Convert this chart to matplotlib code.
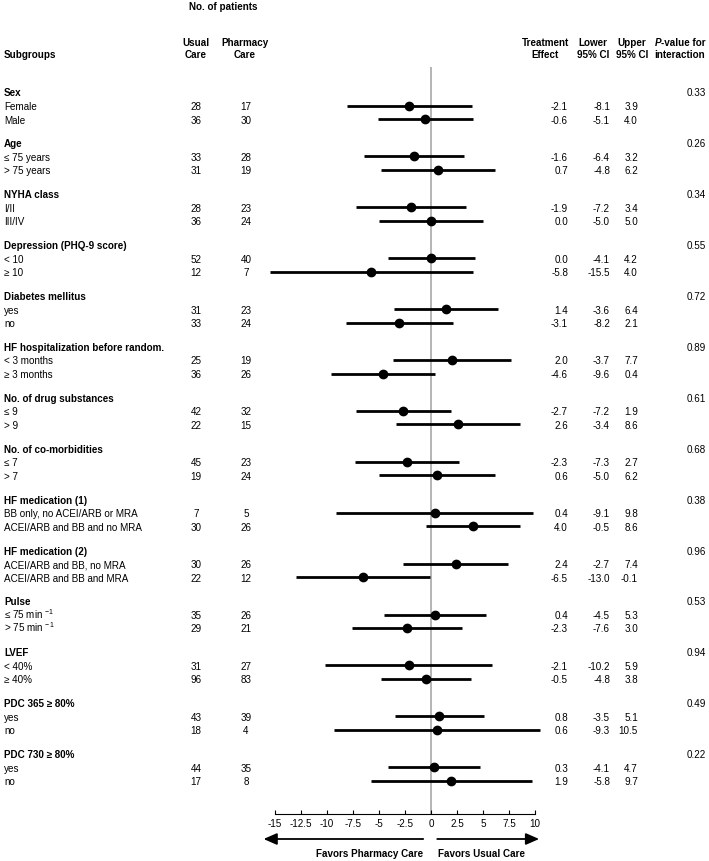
import numpy as np
import matplotlib
matplotlib.use("Agg")
import matplotlib.pyplot as plt

plt.rcParams['font.family'] = ['Liberation Sans', 'DejaVu Sans']
plt.rcParams['mathtext.fontset'] = 'custom'
plt.rcParams['mathtext.rm'] = 'Liberation Sans'
plt.rcParams['mathtext.it'] = 'Liberation Sans:italic'
plt.rcParams['mathtext.bf'] = 'Liberation Sans:bold'

# ---------------------------------------------------------------
# data
groups = ["Sex", "Age", "NYHA class", "Depression (PHQ-9 score)",
          "Diabetes mellitus", "HF hospitalization before random.",
          "No. of drug substances", "No. of co-morbidities",
          "HF medication (1)", "HF medication (2)", "Pulse", "LVEF",
          "PDC 365 \u2265 80%", "PDC 730 \u2265 80%"]
p_values = ["0.33", "0.26", "0.34", "0.55", "0.72", "0.89", "0.61",
            "0.68", "0.38", "0.96", "0.53", "0.94", "0.49", "0.22"]

labels = ["Female", "Male",
          "\u2264 75 years", "> 75 years",
          "I/II", "III/IV",
          "< 10", "\u2265 10",
          "yes", "no",
          "< 3 months", "\u2265 3 months",
          "\u2264 9", "> 9",
          "\u2264 7", "> 7",
          "BB only, no ACEI/ARB or MRA", "ACEI/ARB and BB and no MRA",
          "ACEI/ARB and BB, no MRA", "ACEI/ARB and BB and MRA",
          "\u2264 75 min $^{-1}$", "> 75 min $^{-1}$",
          "< 40%", "\u2265 40%",
          "yes", "no",
          "yes", "no"]
usual = [28, 36, 33, 31, 28, 36, 52, 12, 31, 33, 25, 36, 42, 22,
         45, 19, 7, 30, 30, 22, 35, 29, 31, 96, 43, 18, 44, 17]
pharmacy = [17, 30, 28, 19, 23, 24, 40, 7, 23, 24, 19, 26, 32, 15,
            23, 24, 5, 26, 26, 12, 26, 21, 27, 83, 39, 4, 35, 8]
effect = [-2.1, -0.6, -1.6, 0.7, -1.9, 0.0, 0.0, -5.8, 1.4, -3.1,
          2.0, -4.6, -2.7, 2.6, -2.3, 0.6, 0.4, 4.0, 2.4, -6.5,
          0.4, -2.3, -2.1, -0.5, 0.8, 0.6, 0.3, 1.9]
lower = [-8.1, -5.1, -6.4, -4.8, -7.2, -5.0, -4.1, -15.5, -3.6, -8.2,
         -3.7, -9.6, -7.2, -3.4, -7.3, -5.0, -9.1, -0.5, -2.7, -13.0,
         -4.5, -7.6, -10.2, -4.8, -3.5, -9.3, -4.1, -5.8]
upper = [3.9, 4.0, 3.2, 6.2, 3.4, 5.0, 4.2, 4.0, 6.4, 2.1,
         7.7, 0.4, 1.9, 8.6, 2.7, 6.2, 9.8, 8.6, 7.4, -0.1,
         5.3, 3.0, 5.9, 3.8, 5.1, 10.5, 4.7, 9.7]

ticks = [-15, -12.5, -10, -7.5, -5, -2.5, 0, 2.5, 5, 7.5, 10]
tick_labels = ["-15", "-12.5", "-10", "-7.5", "-5", "-2.5", "0",
               "2.5", "5", "7.5", "10"]

# ---------------------------------------------------------------
# layout (pixel units, y downwards)
W, H = 709, 862
fs = 7.1
y_first = 93
gap = 50.9
row_step = 13.5
axis_y = 815
x_left = 4

fig = plt.figure(figsize=(W / 100, H / 100), dpi=100)

# text layer over the whole figure
tax = fig.add_axes([0, 0, 1, 1])
tax.set_xlim(0, W)
tax.set_ylim(H, 0)
tax.axis('off')

# forest axes: x in effect units, y in the same pixel units
ax = fig.add_axes([275 / W, (H - axis_y) / H, 260 / W, axis_y / H])
ax.set_xlim(-15, 10)
ax.set_ylim(axis_y, 0)
ax.patch.set_visible(False)
for s in ['top', 'right', 'left']:
    ax.spines[s].set_visible(False)
ax.spines['bottom'].set_linewidth(0.8)
ax.set_yticks([])
ax.set_xticks(ticks)
ax.set_xticklabels(tick_labels)
ax.tick_params(axis='x', direction='in', length=3, width=0.8, pad=3,
               labelsize=fs)

ax.vlines(0, 68, axis_y, color='#a8a8a8', lw=1.2, zorder=1)


def put(x, y, s, ha='left', bold=False):
    tax.text(x, y + 3.5, s, ha=ha, va='baseline', fontsize=fs,
             fontweight='bold' if bold else 'normal')


# column headers
put(223, 7, "No. of patients", ha='center', bold=True)
put(x_left, 55, "Subgroups", bold=True)
put(196, 43, "Usual", ha='center', bold=True)
put(196, 55, "Care", ha='center', bold=True)
put(245, 43, "Pharmacy", ha='center', bold=True)
put(245, 55, "Care", ha='center', bold=True)
put(545, 43, "Treatment", ha='center', bold=True)
put(545, 55, "Effect", ha='center', bold=True)
put(593, 43, "Lower", ha='center', bold=True)
put(593, 55, "95% CI", ha='center', bold=True)
put(632, 43, "Upper", ha='center', bold=True)
put(632, 55, "95% CI", ha='center', bold=True)
tax.text(661, 43 + 3.5, "P", ha='right', va='baseline', fontsize=fs,
         fontweight='bold', fontstyle='italic')
put(661, 43, "-value for", bold=True)
put(680, 55, "interaction", ha='center', bold=True)

# rows
for g in range(len(groups)):
    yh = y_first + g * gap
    put(x_left, yh, groups[g], bold=True)
    put(706, yh, p_values[g], ha='right')
    for r in range(2):
        i = 2 * g + r
        y = yh + row_step * (r + 1)
        ax.hlines(y, lower[i], upper[i], color='black', lw=2.0,
                  clip_on=False, zorder=3)
        ax.plot(effect[i], y, 'o', color='black', ms=6, clip_on=False,
                zorder=4)
        put(x_left, y, labels[i])
        put(196, y, str(usual[i]), ha='center')
        put(246, y, str(pharmacy[i]), ha='center')
        put(568, y, "%.1f" % effect[i], ha='right')
        put(610, y, "%.1f" % lower[i], ha='right')
        put(638, y, "%.1f" % upper[i], ha='right')

# direction arrows below the axis
arrow_y = 840
blend = (ax.transData, tax.transData)
arrow = dict(arrowstyle='-|>,head_length=0.8,head_width=0.35', lw=1.3,
             color='black', shrinkA=0, shrinkB=0)
ax.annotate("", xy=(-16.1, arrow_y), xytext=(-0.75, arrow_y),
            xycoords=blend, textcoords=blend, arrowprops=arrow,
            annotation_clip=False)
ax.annotate("", xy=(10.4, arrow_y), xytext=(0.6, arrow_y),
            xycoords=blend, textcoords=blend, arrowprops=arrow,
            annotation_clip=False)
put(423, 854, "Favors Pharmacy Care", ha='right', bold=True)
put(438, 854, "Favors Usual Care", bold=True)

fig.savefig("out.png", dpi=100)
